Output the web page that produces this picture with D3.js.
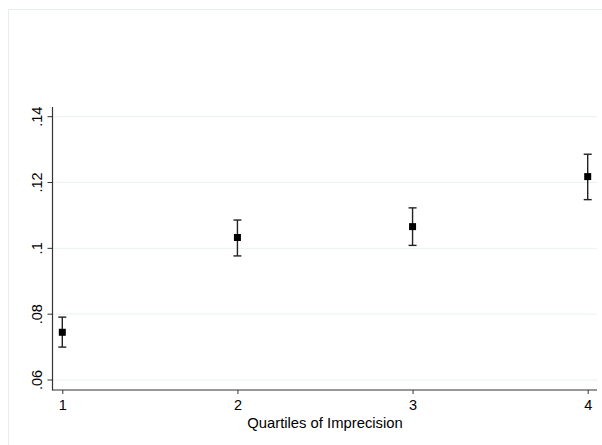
<!DOCTYPE html>
<html>
<head>
  <script src="https://d3js.org/d3.v7.min.js"></script>
  <style>
    body { margin: 0; background: #fff; }
    text { font-family: "Liberation Sans", Arial, Helvetica, sans-serif; fill: #000; }
  </style>
</head>
<body>
<div id="chart"></div>
<script>
  // quartile estimates with 95% CI
  var quartiles = [1, 2, 3, 4];
  var estimates = [0.0745, 0.1033, 0.1066, 0.1218];
  var lowerCI = [0.0700, 0.0977, 0.1009, 0.1148];
  var upperCI = [0.0791, 0.1086, 0.1123, 0.1286];
  var yTicks = [0.06, 0.08, 0.10, 0.12, 0.14];
  var xTitle = "Quartiles of Imprecision";

  var W = 602, H = 445;
  var svg = d3.select("#chart").append("svg").attr("width", W).attr("height", H);

  // outer graph region frame
  svg.append("rect").attr("x", 8.5).attr("y", 9.5).attr("width", 600).attr("height", 440)
    .attr("fill", "#fff").attr("stroke", "#e6eef0").attr("stroke-width", 1);

  var x = d3.scaleLinear().domain([1, 4]).range([62.3, 587.7]);
  var y = d3.scaleLinear().domain([0.06, 0.14]).range([380, 116.7]);
  var left = 52.5, right = 597, bottom = 390;

  // gridlines
  svg.append("g").selectAll("line").data(yTicks).enter().append("line")
    .attr("x1", left).attr("x2", right)
    .attr("y1", function(d){ return y(d); }).attr("y2", function(d){ return y(d); })
    .attr("stroke", "#eaf1f3").attr("stroke-width", 1);

  // y axis
  var yAxis = d3.axisLeft(y).tickValues(yTicks).tickSize(5)
    .tickFormat(function(d){ return d3.format(".2f")(d).replace(/^0/, "").replace(/0$/, ""); });
  var gy = svg.append("g").attr("transform", "translate(" + left + ",0)").call(yAxis);
  gy.select(".domain").remove();
  gy.selectAll(".tick").attr("transform", "translate(0,0)");
  gy.selectAll(".tick line").attr("stroke", "#333")
    .attr("y1", function(d){ return y(d); }).attr("y2", function(d){ return y(d); });
  gy.selectAll(".tick text")
    .attr("font-size", 14.5)
    .attr("x", -10.5).attr("y", function(d){ return y(d); })
    .attr("dy", "0em")
    .attr("transform", function(d){ return "rotate(-90," + (-10.5) + "," + y(d) + ")"; })
    .attr("text-anchor", "middle");
  svg.append("line").attr("x1", left).attr("x2", left).attr("y1", 107).attr("y2", bottom + 0.5)
    .attr("stroke", "#333").attr("stroke-width", 1.2);

  // x axis
  var xAxis = d3.axisBottom(x).tickValues(quartiles).tickSize(4).tickPadding(5.5).tickFormat(d3.format("d"));
  var gx = svg.append("g").attr("transform", "translate(0," + bottom + ")").call(xAxis);
  gx.select(".domain").remove();
  gx.selectAll(".tick line").attr("stroke", "#333");
  gx.selectAll(".tick text").attr("font-size", 14.5);
  svg.append("line").attr("x1", left).attr("x2", right).attr("y1", bottom).attr("y2", bottom)
    .attr("stroke", "#333").attr("stroke-width", 1.2);

  svg.append("text").attr("x", (x(1) + x(4)) / 2).attr("y", 427.5)
    .attr("text-anchor", "middle").attr("font-size", 14.8).text(xTitle);

  // error bars
  var data = quartiles.map(function(q, i){
    return {q: q, est: estimates[i], lo: lowerCI[i], hi: upperCI[i]};
  });
  var bars = svg.append("g").selectAll("g").data(data).enter().append("g")
    .attr("stroke", "#222").attr("stroke-width", 1.4);
  bars.append("line")
    .attr("x1", function(d){ return x(d.q); }).attr("x2", function(d){ return x(d.q); })
    .attr("y1", function(d){ return y(d.lo); }).attr("y2", function(d){ return y(d.hi); });
  bars.append("line")
    .attr("x1", function(d){ return x(d.q) - 4; }).attr("x2", function(d){ return x(d.q) + 4; })
    .attr("y1", function(d){ return y(d.lo); }).attr("y2", function(d){ return y(d.lo); });
  bars.append("line")
    .attr("x1", function(d){ return x(d.q) - 4; }).attr("x2", function(d){ return x(d.q) + 4; })
    .attr("y1", function(d){ return y(d.hi); }).attr("y2", function(d){ return y(d.hi); });

  // point markers
  svg.append("g").selectAll("rect").data(data).enter().append("rect")
    .attr("x", function(d){ return x(d.q) - 3.5; })
    .attr("y", function(d){ return y(d.est) - 3.5; })
    .attr("width", 7).attr("height", 7).attr("fill", "#000");
</script>
</body>
</html>
